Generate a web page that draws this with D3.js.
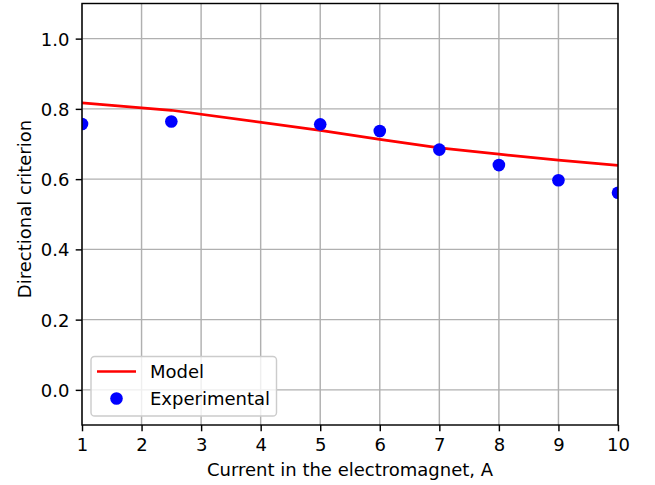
<!DOCTYPE html>
<html><head><meta charset="utf-8">
<script src="https://cdn.jsdelivr.net/npm/d3@7"></script>
<style>body{margin:0;background:#fff}svg{display:block}svg text{font-family:"DejaVu Sans",sans-serif !important;font-size:18px !important;}</style>
</head><body><svg id="c" width="655" height="485"></svg>
<script>
const modelX = [1, 2.5, 5, 6, 7, 8, 9, 10];
const modelY = [0.817, 0.796, 0.739, 0.713, 0.689, 0.671, 0.654, 0.639];
const expX = [1, 2.5, 5, 6, 7, 8, 9, 10];
const expY = [0.757, 0.764, 0.756, 0.737, 0.684, 0.640, 0.597, 0.561];
const xTicks = [1, 2, 3, 4, 5, 6, 7, 8, 9, 10];
const yTicks = [0.0, 0.2, 0.4, 0.6, 0.8, 1.0];
const xLabel = "Current in the electromagnet, A";
const yLabel = "Directional criterion";
const legendLabels = ["Model", "Experimental"];

const svg = d3.select("#c");
const L = 82, R = 618, T = 3.5, B = 425;
const x = d3.scaleLinear().domain([1, 10]).range([L, R]);
const y = d3.scaleLinear().domain([-0.1, 1.1]).range([B, T]);
const lw = 1.44;

// grid
const g = svg.append("g");
g.selectAll("line.gx").data(xTicks).join("line")
  .attr("x1", d => x(d)).attr("x2", d => x(d)).attr("y1", T).attr("y2", B)
  .attr("stroke", "#b0b0b0").attr("stroke-width", lw);
g.selectAll("line.gy").data(yTicks).join("line")
  .attr("y1", d => y(d)).attr("y2", d => y(d)).attr("x1", L).attr("x2", R)
  .attr("stroke", "#b0b0b0").attr("stroke-width", lw);

// clip
svg.append("clipPath").attr("id", "clip").append("rect")
  .attr("x", L).attr("y", T).attr("width", R - L).attr("height", B - T);

const plot = svg.append("g").attr("clip-path", "url(#clip)");
plot.append("path")
  .datum(modelX.map((d, i) => [d, modelY[i]]))
  .attr("d", d3.line().x(d => x(d[0])).y(d => y(d[1])))
  .attr("fill", "none").attr("stroke", "#ff0000").attr("stroke-width", 2.7);
plot.selectAll("circle").data(expX.map((d, i) => [d, expY[i]])).join("circle")
  .attr("cx", d => x(d[0])).attr("cy", d => y(d[1])).attr("r", 6.3)
  .attr("fill", "#0000ff");

// axes
const xa = svg.append("g").attr("transform", `translate(0,${B})`)
  .call(d3.axisBottom(x).tickValues(xTicks).tickFormat(d3.format("d")).tickSize(6.3).tickPadding(6.3));
const ya = svg.append("g").attr("transform", `translate(${L},0)`)
  .call(d3.axisLeft(y).tickValues(yTicks).tickFormat(d3.format(".1f")).tickSize(6.3).tickPadding(6.3));
[xa, ya].forEach(a => {
  a.attr("font-size", null).attr("font-family", null);
  a.selectAll("text").attr("fill", "#000");
  a.selectAll("line").attr("stroke", "#000").attr("stroke-width", lw);
  a.select(".domain").remove();
});
xa.selectAll("text").attr("dy", "0.72em");
ya.selectAll("text").attr("dy", "0.36em");
// spines
svg.append("rect").attr("x", L).attr("y", T).attr("width", R - L).attr("height", B - T)
  .attr("fill", "none").attr("stroke", "#000").attr("stroke-width", lw);

// labels
svg.append("text").attr("x", (L + R) / 2).attr("y", 475.5).attr("text-anchor", "middle")
  .text(xLabel);
svg.append("text").attr("transform", `translate(30.5,209) rotate(-90)`).attr("text-anchor", "middle")
  .text(yLabel);

// legend
const lg = svg.append("g");
lg.append("rect").attr("x", 91).attr("y", 356.5).attr("width", 185.5).attr("height", 59.5)
  .attr("rx", 3.6).attr("fill", "#fff").attr("fill-opacity", 0.8).attr("stroke", "#cccccc").attr("stroke-width", lw);
lg.append("line").attr("x1", 97).attr("x2", 136).attr("y1", 371.5).attr("y2", 371.5)
  .attr("stroke", "#ff0000").attr("stroke-width", 2.7);
lg.append("circle").attr("cx", 116.5).attr("cy", 398.5).attr("r", 6.3).attr("fill", "#0000ff");
lg.append("text").attr("x", 150).attr("y", 377.5).text(legendLabels[0]);
lg.append("text").attr("x", 150).attr("y", 405).text(legendLabels[1]);
</script></body></html>
